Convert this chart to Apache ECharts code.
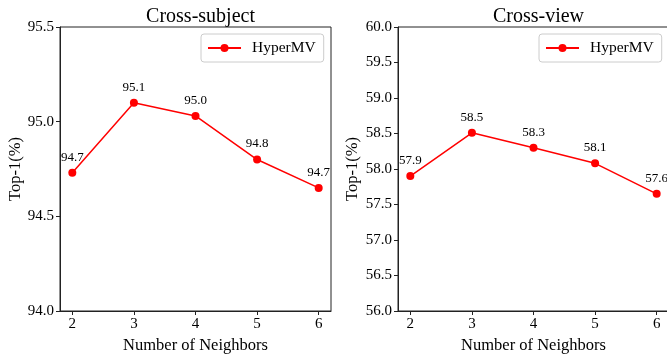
<!DOCTYPE html>
<html><head><meta charset="utf-8">
<script src="https://cdn.jsdelivr.net/npm/echarts@6/dist/echarts.min.js"></script>
<style>html,body{margin:0;padding:0;background:#fff}#c{width:667px;height:356px}</style>
</head><body><div id="c"></div>
<script>
const neighbors = [2, 3, 4, 5, 6];
const crossSubject = [94.73, 95.10, 95.03, 94.80, 94.65];
const crossView = [57.90, 58.51, 58.30, 58.08, 57.65];
const titles = ['Cross-subject', 'Cross-view'];
const seriesName = 'HyperMV';
const yRanges = [[94.0, 95.5], [56.0, 60.0]];

const F = 'Liberation Serif, Times New Roman, serif';
const chart = echarts.init(document.getElementById('c'));
const grids = [
  {left: 60, top: 27, width: 271, height: 284},
  {left: 398, top: 27, width: 271, height: 284}
];
function xAxis(i) {
  return {
    type: 'value', gridIndex: i, min: 1.8, max: 6.2,
    name: 'Number of Neighbors', nameLocation: 'middle', nameGap: 23,
    nameTextStyle: {fontFamily: F, fontSize: 16.5, color: '#000'},
    axisLine: {show: true, onZero: false, lineStyle: {color: '#222', width: 1}},
    axisTick: {show: true, length: 4, customValues: neighbors, lineStyle: {color: '#222'}},
    axisLabel: {customValues: neighbors, fontFamily: F, fontSize: 15, color: '#000', margin: 6},
    splitLine: {show: false}
  };
}
function yAxis(i) {
  return {
    type: 'value', gridIndex: i, min: yRanges[i][0], max: yRanges[i][1], interval: 0.5,
    name: 'Top-1(%)', nameLocation: 'middle', nameGap: i === 0 ? 33 : 37,
    nameTextStyle: {fontFamily: F, fontSize: 16.5, color: '#000'},
    axisLine: {show: true, lineStyle: {color: '#222', width: 1}},
    axisTick: {show: true, length: 4, lineStyle: {color: '#222'}},
    axisLabel: {fontFamily: F, fontSize: 15, color: '#000', margin: 6, formatter: v => v.toFixed(1)},
    splitLine: {show: false}
  };
}
function series(i, vals) {
  return {
    name: seriesName, type: 'line', xAxisIndex: i, yAxisIndex: i,
    data: neighbors.map((n, k) => [n, vals[k]]),
    symbol: 'circle', symbolSize: 8,
    itemStyle: {color: '#ff0000'}, lineStyle: {color: '#ff0000', width: 1.5},
    label: {show: true, position: 'top', distance: 5, fontFamily: F, fontSize: 13, color: '#000',
      formatter: p => p.value[1].toFixed(1)},
    clip: false
  };
}
chart.setOption({
  animation: false,
  grid: grids.map(g => Object.assign({show: true, borderColor: '#222', borderWidth: 1, backgroundColor: 'transparent', containLabel: false, outerBoundsMode: 'none'}, g)),
  title: titles.map((t, i) => ({
    text: t, left: grids[i].left + grids[i].width / 2, top: 2, textAlign: 'center',
    textStyle: {fontFamily: F, fontSize: 20, fontWeight: 'normal', color: '#000'}
  })),
  legend: [0, 1].map(i => ({
    data: [seriesName], left: i === 0 ? 201 : 539, top: 34,
    orient: 'vertical', itemWidth: 33, itemHeight: 10, itemGap: 0,
    padding: [6, 8, 6, 6], borderColor: '#ccc', borderWidth: 1, borderRadius: 3,
    textStyle: {fontFamily: F, fontSize: 15.5, color: '#000', padding: [0, 0, 0, 6]}
  })),
  xAxis: [xAxis(0), xAxis(1)],
  yAxis: [yAxis(0), yAxis(1)],
  series: [series(0, crossSubject), series(1, crossView)]
});
</script></body></html>
